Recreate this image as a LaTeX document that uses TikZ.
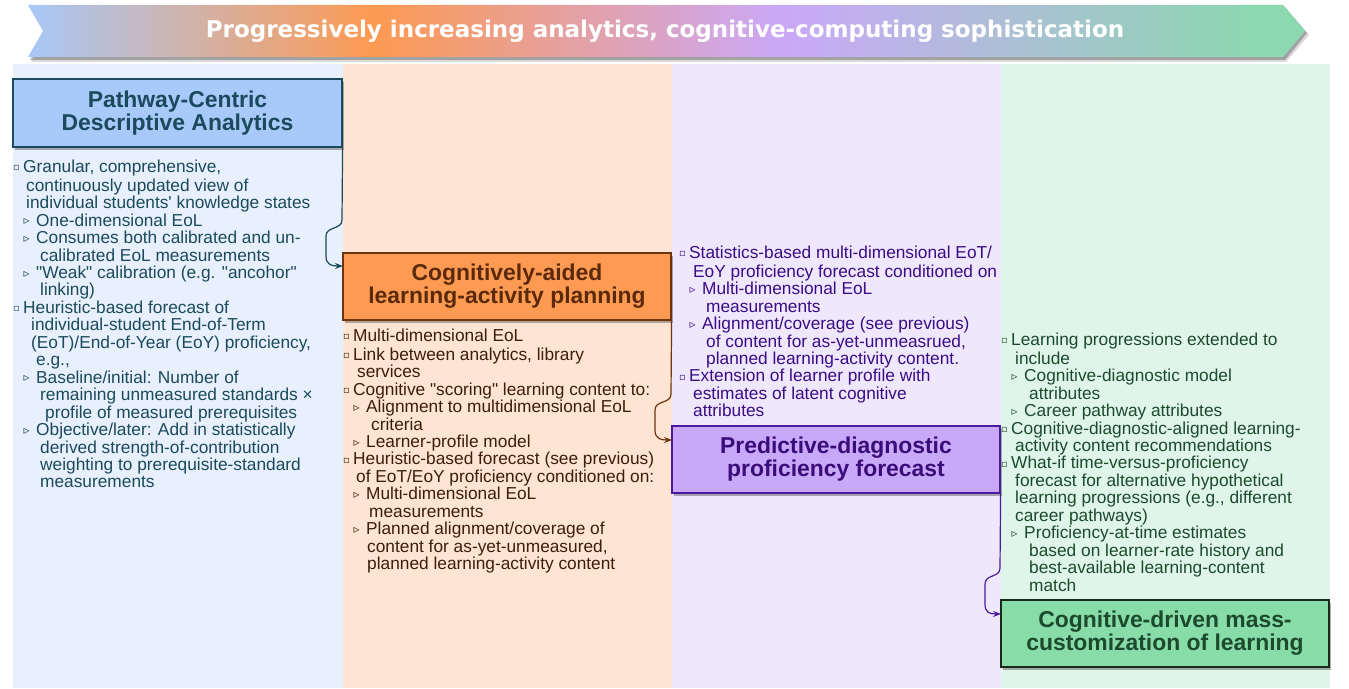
\documentclass[tikz,border=0pt]{standalone}
\usepackage{fontspec}
\newfontfamily\lib{Liberation Sans}
\newfontfamily\deja{DejaVu Sans}
\usetikzlibrary{shadows,arrows.meta}
\definecolor{bnA}{HTML}{A8C8F8}
\definecolor{bnB}{HTML}{FD9A52}
\definecolor{bnC}{HTML}{CAA8F8}
\definecolor{bnD}{HTML}{8CD8B0}
\definecolor{bg1}{HTML}{E8F0FD}
\definecolor{bg2}{HTML}{FDE4D3}
\definecolor{bg3}{HTML}{EFE8FD}
\definecolor{bg4}{HTML}{E0F5E9}
\definecolor{t1}{HTML}{1B4A5C}
\definecolor{t2}{HTML}{3D1E0A}
\definecolor{t3}{HTML}{3A0C86}
\definecolor{t4}{HTML}{1C4A2C}
\definecolor{f1}{HTML}{A8CAFA}
\definecolor{f2}{HTML}{FF9A52}
\definecolor{f3}{HTML}{C8A8F8}
\definecolor{f4}{HTML}{88DCA8}
\definecolor{d1}{HTML}{1B4A5C}
\definecolor{d2}{HTML}{6B3512}
\definecolor{d3}{HTML}{4A1A9A}
\definecolor{d4}{HTML}{1A2A1A}
\definecolor{h2}{HTML}{5A2A0A}
\definecolor{h3}{HTML}{3A0C7A}
\pgfdeclarehorizontalshading{bannershade}{100bp}{color(0bp)=(bnA); color(25bp)=(bnA); color(38.5bp)=(bnB); color(54.5bp)=(bnC); color(73bp)=(bnD); color(100bp)=(bnD)}
\newcommand\sqb{{\deja\fontsize{10bp}{10bp}\selectfont\raisebox{1.5bp}{▫}}}
\newcommand\trb{{\deja\fontsize{12bp}{12bp}\selectfont\raisebox{1.5bp}{▹}}}
\newcommand\BA{\makebox[10bp][l]{\sqb}}
\newcommand\BB{\hspace*{10.5bp}\makebox[12.5bp][l]{\trb}}
\newcommand\IN[1]{\hspace*{#1bp}}
\tikzset{
  titlebox/.style={draw, line width=1.2bp, inner sep=0pt, align=center,
    font=\lib\bfseries\fontsize{22.9bp}{23bp}\selectfont,
    drop shadow={shadow xshift=2bp, shadow yshift=-3bp, opacity=0.3, fill=black}},
  bodytext/.style={anchor=north west, inner sep=0pt, align=left,
    font=\lib\fontsize{17.3bp}{17.45bp}\selectfont},
  conn/.style={line width=1.2bp, -{Stealth[length=8bp,width=6bp]}},
}
\begin{document}
\begin{tikzpicture}[x=1bp,y=-1bp]
\useasboundingbox (0,0) rectangle (1349,688);
\fill[white] (0,0) rectangle (1349,688);
% columns
\fill[bg1] (13,64) rectangle (343,688);
\fill[bg2] (343,64) rectangle (672,688);
\fill[bg3] (672,64) rectangle (1001,688);
\fill[bg4] (1001,64) rectangle (1330,688);
% banner
\fill[black, opacity=0.15] (31,9) -- (1286,9) -- (1309,35) -- (1286,62) -- (31,62) -- (46,35) -- cycle;
\fill[black, opacity=0.25] (30,7) -- (1285,7) -- (1307,33) -- (1285,60) -- (30,60) -- (45,33) -- cycle;
\shade[shading=bannershade] (28,5) -- (1283,5) -- (1305,31) -- (1283,57) -- (28,57) -- (43,31) -- cycle;
\node[text=white, font=\deja\bfseries\fontsize{23bp}{25bp}\selectfont] (banner) at (665,31) {Progressively increasing analytics, cognitive-computing sophistication};
% title boxes
\node[titlebox, fill=f1, draw=d1, text=t1, minimum width=329bp, minimum height=68bp] (b1) at (177.5,113) {Pathway-Centric\\Descriptive Analytics};
\node[titlebox, fill=f2, draw=d2, text=h2, minimum width=328bp, minimum height=67bp] (b2) at (507,286.5) {Cognitively-aided\\learning-activity planning};
\node[titlebox, fill=f3, draw=d3, text=h3, minimum width=328bp, minimum height=67bp] (b3) at (836,459.5) {Predictive-diagnostic\\proficiency forecast};
\node[titlebox, fill=f4, draw=d4, text=t4, minimum width=328bp, minimum height=67bp] (b4) at (1165,633.5) {Cognitive-driven mass-\\customization of learning};
% connectors
\coordinate (a2) at (343,266);
\coordinate (a3) at (672,440);
\coordinate (a4) at (1001,614);
\draw[conn, d1] (b1.south east) -- (342,220) .. controls (342,230) and (326,226) .. (326,236) -- (326,256) .. controls (326,265) and (332,266) .. (a2);
\draw[conn, d2] (b2.south east) -- (671,394) .. controls (671,404) and (655,400) .. (655,410) -- (655,430) .. controls (655,439) and (661,440) .. (a3);
\draw[conn, d3] (b3.south east) -- (1000,568) .. controls (1000,578) and (985,574) .. (985,584) -- (985,604) .. controls (985,613) and (990,614) .. (a4);
% body texts
\node[bodytext, text=t1] (c1) at (13,159.75) {\strut\BA Granular, comprehensive,\\
\IN{13}continuously updated view of\\
\IN{13}individual students' knowledge states\\
\BB One-dimensional EoL\\
\BB Consumes both calibrated and un-\\
\IN{27}calibrated EoL measurements\\
\BB "Weak" calibration (e.g. "ancohor"\\
\IN{27}linking)\\
\BA Heuristic-based forecast of\\
\IN{18}individual-student End-of-Term\\
\IN{18}(EoT)/End-of-Year (EoY) proficiency,\\
\IN{23}e.g.,\\
\BB Baseline/initial: Number of\\
\IN{27}remaining unmeasured standards ×\\
\IN{32}profile of measured prerequisites\\
\BB Objective/later: Add in statistically\\
\IN{27}derived strength-of-contribution\\
\IN{27}weighting to prerequisite-standard\\
\IN{27}measurements};
\node[bodytext, text=t2] (c2) at (343,328.75) {\strut\BA Multi-dimensional EoL\\
\BA Link between analytics, library\\
\IN{14}services\\
\BA Cognitive "scoring" learning content to:\\
\BB Alignment to multidimensional EoL\\
\IN{28}criteria\\
\BB Learner-profile model\\
\BA Heuristic-based forecast (see previous)\\
\IN{13}of EoT/EoY proficiency conditioned on:\\
\BB Multi-dimensional EoL\\
\IN{26}measurements\\
\BB Planned alignment/coverage of\\
\IN{24}content for as-yet-unmeasured,\\
\IN{24}planned learning-activity content};
\node[bodytext, text=t3] (c3) at (679,245.75) {\strut\BA Statistics-based multi-dimensional EoT/\\
\IN{14}EoY proficiency forecast conditioned on\\
\BB Multi-dimensional EoL\\
\IN{27}measurements\\
\BB Alignment/coverage (see previous)\\
\IN{27}of content for as-yet-unmeasrued,\\
\IN{27}planned learning-activity content.\\
\BA Extension of learner profile with\\
\IN{14}estimates of latent cognitive\\
\IN{14}attributes};
\node[bodytext, text=t4] (c4) at (1001,332.75) {\strut\BA Learning progressions extended to\\
\IN{14}include\\
\BB Cognitive-diagnostic model\\
\IN{28}attributes\\
\BB Career pathway attributes\\
\BA Cognitive-diagnostic-aligned learning-\\
\IN{14}activity content recommendations\\
\BA What-if time-versus-proficiency\\
\IN{14}forecast for alternative hypothetical\\
\IN{14}learning progressions (e.g., different\\
\IN{14}career pathways)\\
\BB Proficiency-at-time estimates\\
\IN{28}based on learner-rate history and\\
\IN{28}best-available learning-content\\
\IN{28}match};
\end{tikzpicture}
\end{document}
